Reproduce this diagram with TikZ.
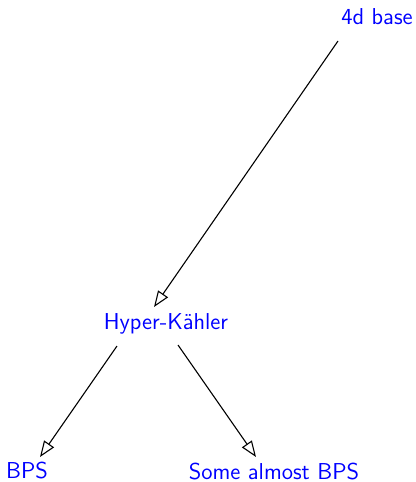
\documentclass[tikz,border=0pt]{standalone}
\usetikzlibrary{arrows.meta}
\begin{document}
\begin{tikzpicture}[x=0.5pt,y=-0.5pt,
  lbl/.style={text=blue,inner sep=0pt,font=\sffamily\fontsize{11.5}{13.8}\selectfont},
  arr/.style={draw=black,line width=0.55pt,-{Triangle[open,length=8pt,width=6pt]}}]
\useasboundingbox (0,0) rectangle (416,482);
\node[lbl] (base) at (377,17) {4d base};
\node[lbl] (hk) at (166,324) {Hyper-K\"ahler};
\node[lbl] (bps) at (27,471) {BPS};
\node[lbl] (some) at (274,472) {Some almost BPS};
\draw[arr] ([shift={(-39,24)}]base.center) -- ([shift={(-12,-17)}]hk.center);
\draw[arr] ([shift={(-49,22)}]hk.center) -- ([shift={(13,-14)}]bps.center);
\draw[arr] ([shift={(12,21)}]hk.center) -- ([shift={(-18,-15)}]some.center);
\end{tikzpicture}
\end{document}
